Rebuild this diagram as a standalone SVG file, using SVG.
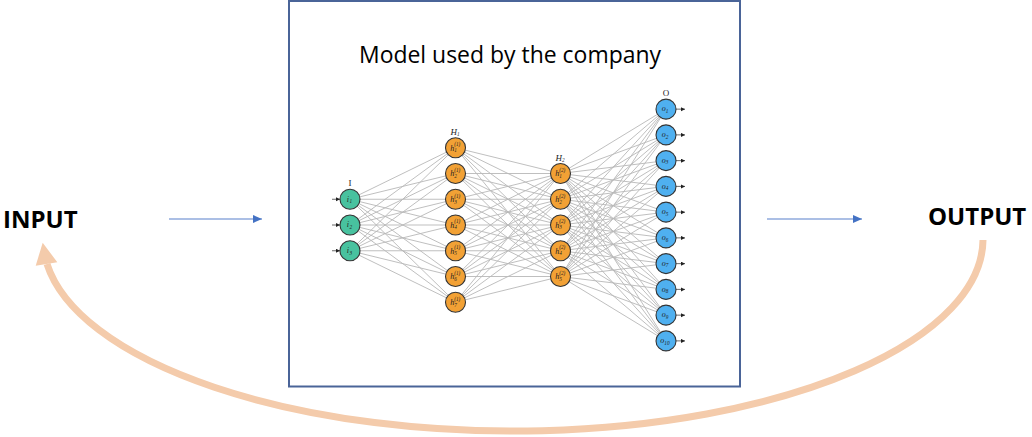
<svg xmlns="http://www.w3.org/2000/svg" width="1032" height="437" viewBox="0 0 1032 437">
<defs>
<style>
.big{font-family:"Open Sans","Liberation Sans",sans-serif;font-weight:700;font-size:24px;fill:#000}
.title{font-family:"Open Sans","Liberation Sans",sans-serif;font-size:23px;fill:#000}
.nn{stroke:#b8b8b8;stroke-width:0.9;fill:none}
.ni{fill:#48c29f;stroke:#333;stroke-width:1.1}
.nh{fill:#f2a135;stroke:#333;stroke-width:1.1}
.no{fill:#4fb0f0;stroke:#333;stroke-width:1.1}
.lbl{font-family:"Liberation Serif",serif;font-style:italic;font-size:8px;fill:#222}
.s{font-size:5.2px}
.lay{font-family:"Liberation Serif",serif;font-size:9px;fill:#222;text-anchor:middle}
.small{stroke:#444;stroke-width:0.8;marker-end:url(#sm)}
.flow{stroke:#8faadc;stroke-width:1.5;marker-end:url(#bl)}
</style>
<marker id="bl" markerUnits="userSpaceOnUse" markerWidth="10" markerHeight="10" refX="9" refY="4" orient="auto"><path d="M0,0 L9,4 L0,8 z" fill="#4472c4"/></marker>
<marker id="sm" markerUnits="userSpaceOnUse" markerWidth="5" markerHeight="5" refX="4" refY="2" orient="auto"><path d="M0,0 L4,2 L0,4 z" fill="#222"/></marker>
</defs>
<rect x="0" y="0" width="1032" height="437" fill="#fff"/>

<g id="model-box">
<rect x="289" y="1" width="451" height="385.5" fill="#fff" stroke="#4a6498" stroke-width="2"/>
<text class="title" x="510" y="63" text-anchor="middle" textLength="302" lengthAdjust="spacingAndGlyphs">Model used by the company</text>
</g>

<g id="input-label"><text class="big" x="3" y="228">INPUT</text></g>
<g id="output-label"><text class="big" x="928" y="225">OUTPUT</text></g>

<g id="connectors">
<line class="flow" x1="169" y1="219" x2="262" y2="219"/>
<line class="flow" x1="767" y1="219" x2="862" y2="219"/>
<path d="M983 240 A470 192 0 0 1 47 264" fill="none" stroke="#f4cbab" stroke-width="7"/>
<polygon points="42.7,242.7 35.7,265.7 57.3,262.3" fill="#f4cbab"/>

<g id="nn-edges" class="nn">
<path d="M350 199.25L455.5 147.75M350 199.25L455.5 173.5M350 199.25L455.5 199.25M350 199.25L455.5 225M350 199.25L455.5 250.75M350 199.25L455.5 276.5M350 199.25L455.5 302.25"/>
<path d="M350 225L455.5 147.75M350 225L455.5 173.5M350 225L455.5 199.25M350 225L455.5 225M350 225L455.5 250.75M350 225L455.5 276.5M350 225L455.5 302.25"/>
<path d="M350 250.75L455.5 147.75M350 250.75L455.5 173.5M350 250.75L455.5 199.25M350 250.75L455.5 225M350 250.75L455.5 250.75M350 250.75L455.5 276.5M350 250.75L455.5 302.25"/>
<path d="M455.5 147.75L560.5 173.5M455.5 147.75L560.5 199.25M455.5 147.75L560.5 225M455.5 147.75L560.5 250.75M455.5 147.75L560.5 276.5"/>
<path d="M455.5 173.5L560.5 173.5M455.5 173.5L560.5 199.25M455.5 173.5L560.5 225M455.5 173.5L560.5 250.75M455.5 173.5L560.5 276.5"/>
<path d="M455.5 199.25L560.5 173.5M455.5 199.25L560.5 199.25M455.5 199.25L560.5 225M455.5 199.25L560.5 250.75M455.5 199.25L560.5 276.5"/>
<path d="M455.5 225L560.5 173.5M455.5 225L560.5 199.25M455.5 225L560.5 225M455.5 225L560.5 250.75M455.5 225L560.5 276.5"/>
<path d="M455.5 250.75L560.5 173.5M455.5 250.75L560.5 199.25M455.5 250.75L560.5 225M455.5 250.75L560.5 250.75M455.5 250.75L560.5 276.5"/>
<path d="M455.5 276.5L560.5 173.5M455.5 276.5L560.5 199.25M455.5 276.5L560.5 225M455.5 276.5L560.5 250.75M455.5 276.5L560.5 276.5"/>
<path d="M455.5 302.25L560.5 173.5M455.5 302.25L560.5 199.25M455.5 302.25L560.5 225M455.5 302.25L560.5 250.75M455.5 302.25L560.5 276.5"/>
<path d="M560.5 173.5L666 109.125M560.5 173.5L666 134.875M560.5 173.5L666 160.625M560.5 173.5L666 186.375M560.5 173.5L666 212.125M560.5 173.5L666 237.875M560.5 173.5L666 263.625M560.5 173.5L666 289.375M560.5 173.5L666 315.125M560.5 173.5L666 340.875"/>
<path d="M560.5 199.25L666 109.125M560.5 199.25L666 134.875M560.5 199.25L666 160.625M560.5 199.25L666 186.375M560.5 199.25L666 212.125M560.5 199.25L666 237.875M560.5 199.25L666 263.625M560.5 199.25L666 289.375M560.5 199.25L666 315.125M560.5 199.25L666 340.875"/>
<path d="M560.5 225L666 109.125M560.5 225L666 134.875M560.5 225L666 160.625M560.5 225L666 186.375M560.5 225L666 212.125M560.5 225L666 237.875M560.5 225L666 263.625M560.5 225L666 289.375M560.5 225L666 315.125M560.5 225L666 340.875"/>
<path d="M560.5 250.75L666 109.125M560.5 250.75L666 134.875M560.5 250.75L666 160.625M560.5 250.75L666 186.375M560.5 250.75L666 212.125M560.5 250.75L666 237.875M560.5 250.75L666 263.625M560.5 250.75L666 289.375M560.5 250.75L666 315.125M560.5 250.75L666 340.875"/>
<path d="M560.5 276.5L666 109.125M560.5 276.5L666 134.875M560.5 276.5L666 160.625M560.5 276.5L666 186.375M560.5 276.5L666 212.125M560.5 276.5L666 237.875M560.5 276.5L666 263.625M560.5 276.5L666 289.375M560.5 276.5L666 315.125M560.5 276.5L666 340.875"/>
</g>
<g id="io-arrows">
<line class="small" x1="332" y1="199.25" x2="340" y2="199.25"/>
<line class="small" x1="332" y1="225" x2="340" y2="225"/>
<line class="small" x1="332" y1="250.75" x2="340" y2="250.75"/>
<line class="small" x1="676" y1="109.125" x2="685" y2="109.125"/>
<line class="small" x1="676" y1="134.875" x2="685" y2="134.875"/>
<line class="small" x1="676" y1="160.625" x2="685" y2="160.625"/>
<line class="small" x1="676" y1="186.375" x2="685" y2="186.375"/>
<line class="small" x1="676" y1="212.125" x2="685" y2="212.125"/>
<line class="small" x1="676" y1="237.875" x2="685" y2="237.875"/>
<line class="small" x1="676" y1="263.625" x2="685" y2="263.625"/>
<line class="small" x1="676" y1="289.375" x2="685" y2="289.375"/>
<line class="small" x1="676" y1="315.125" x2="685" y2="315.125"/>
<line class="small" x1="676" y1="340.875" x2="685" y2="340.875"/>
</g>
</g>

<g id="layer-labels">
<text class="lay" x="350" y="186">I</text>
<text class="lay" x="455" y="134.5" font-style="italic">H<tspan class="s" dy="1.5">1</tspan></text>
<text class="lay" x="560" y="160.5" font-style="italic">H<tspan class="s" dy="1.5">2</tspan></text>
<text class="lay" x="666" y="95.5">O</text>
</g>

<g id="i1"><circle class="ni" cx="350" cy="199.25" r="10"/><text class="lbl"><tspan x="346.8" y="201.6">i</tspan><tspan class="s" x="349.5" y="203.1">1</tspan></text></g>
<g id="i2"><circle class="ni" cx="350" cy="225" r="10"/><text class="lbl"><tspan x="346.8" y="227.4">i</tspan><tspan class="s" x="349.5" y="228.9">2</tspan></text></g>
<g id="i3"><circle class="ni" cx="350" cy="250.75" r="10"/><text class="lbl"><tspan x="346.8" y="253.1">i</tspan><tspan class="s" x="349.5" y="254.6">3</tspan></text></g>

<g id="h1-1"><circle class="nh" cx="455.5" cy="147.75" r="10"/><text class="lbl"><tspan x="450.3" y="150.5">h</tspan><tspan class="s" x="454.3" y="152">1</tspan><tspan class="s" x="454.3" y="146">(1)</tspan></text></g>
<g id="h1-2"><circle class="nh" cx="455.5" cy="173.5" r="10"/><text class="lbl"><tspan x="450.3" y="176.25">h</tspan><tspan class="s" x="454.3" y="177.75">2</tspan><tspan class="s" x="454.3" y="171.75">(1)</tspan></text></g>
<g id="h1-3"><circle class="nh" cx="455.5" cy="199.25" r="10"/><text class="lbl"><tspan x="450.3" y="202">h</tspan><tspan class="s" x="454.3" y="203.5">3</tspan><tspan class="s" x="454.3" y="197.5">(1)</tspan></text></g>
<g id="h1-4"><circle class="nh" cx="455.5" cy="225" r="10"/><text class="lbl"><tspan x="450.3" y="227.75">h</tspan><tspan class="s" x="454.3" y="229.25">4</tspan><tspan class="s" x="454.3" y="223.25">(1)</tspan></text></g>
<g id="h1-5"><circle class="nh" cx="455.5" cy="250.75" r="10"/><text class="lbl"><tspan x="450.3" y="253.5">h</tspan><tspan class="s" x="454.3" y="255">5</tspan><tspan class="s" x="454.3" y="249">(1)</tspan></text></g>
<g id="h1-6"><circle class="nh" cx="455.5" cy="276.5" r="10"/><text class="lbl"><tspan x="450.3" y="279.25">h</tspan><tspan class="s" x="454.3" y="280.75">6</tspan><tspan class="s" x="454.3" y="274.75">(1)</tspan></text></g>
<g id="h1-7"><circle class="nh" cx="455.5" cy="302.25" r="10"/><text class="lbl"><tspan x="450.3" y="305">h</tspan><tspan class="s" x="454.3" y="306.5">7</tspan><tspan class="s" x="454.3" y="300.5">(1)</tspan></text></g>

<g id="h2-1"><circle class="nh" cx="560.5" cy="173.5" r="10"/><text class="lbl"><tspan x="555.3" y="176.25">h</tspan><tspan class="s" x="559.3" y="177.75">1</tspan><tspan class="s" x="559.3" y="171.75">(2)</tspan></text></g>
<g id="h2-2"><circle class="nh" cx="560.5" cy="199.25" r="10"/><text class="lbl"><tspan x="555.3" y="202">h</tspan><tspan class="s" x="559.3" y="203.5">2</tspan><tspan class="s" x="559.3" y="197.5">(2)</tspan></text></g>
<g id="h2-3"><circle class="nh" cx="560.5" cy="225" r="10"/><text class="lbl"><tspan x="555.3" y="227.75">h</tspan><tspan class="s" x="559.3" y="229.25">3</tspan><tspan class="s" x="559.3" y="223.25">(2)</tspan></text></g>
<g id="h2-4"><circle class="nh" cx="560.5" cy="250.75" r="10"/><text class="lbl"><tspan x="555.3" y="253.5">h</tspan><tspan class="s" x="559.3" y="255">4</tspan><tspan class="s" x="559.3" y="249">(2)</tspan></text></g>
<g id="h2-5"><circle class="nh" cx="560.5" cy="276.5" r="10"/><text class="lbl"><tspan x="555.3" y="279.25">h</tspan><tspan class="s" x="559.3" y="280.75">5</tspan><tspan class="s" x="559.3" y="274.75">(2)</tspan></text></g>

<g id="o1"><circle class="no" cx="666" cy="109.125" r="10"/><text class="lbl"><tspan x="661.8" y="111.4">o</tspan><tspan class="s" x="665.8" y="112.9">1</tspan></text></g>
<g id="o2"><circle class="no" cx="666" cy="134.875" r="10"/><text class="lbl"><tspan x="661.8" y="137.1">o</tspan><tspan class="s" x="665.8" y="138.6">2</tspan></text></g>
<g id="o3"><circle class="no" cx="666" cy="160.625" r="10"/><text class="lbl"><tspan x="661.8" y="162.9">o</tspan><tspan class="s" x="665.8" y="164.4">3</tspan></text></g>
<g id="o4"><circle class="no" cx="666" cy="186.375" r="10"/><text class="lbl"><tspan x="661.8" y="188.6">o</tspan><tspan class="s" x="665.8" y="190.1">4</tspan></text></g>
<g id="o5"><circle class="no" cx="666" cy="212.125" r="10"/><text class="lbl"><tspan x="661.8" y="214.4">o</tspan><tspan class="s" x="665.8" y="215.9">5</tspan></text></g>
<g id="o6"><circle class="no" cx="666" cy="237.875" r="10"/><text class="lbl"><tspan x="661.8" y="240.1">o</tspan><tspan class="s" x="665.8" y="241.6">6</tspan></text></g>
<g id="o7"><circle class="no" cx="666" cy="263.625" r="10"/><text class="lbl"><tspan x="661.8" y="265.9">o</tspan><tspan class="s" x="665.8" y="267.4">7</tspan></text></g>
<g id="o8"><circle class="no" cx="666" cy="289.375" r="10"/><text class="lbl"><tspan x="661.8" y="291.6">o</tspan><tspan class="s" x="665.8" y="293.1">8</tspan></text></g>
<g id="o9"><circle class="no" cx="666" cy="315.125" r="10"/><text class="lbl"><tspan x="661.8" y="317.4">o</tspan><tspan class="s" x="665.8" y="318.9">9</tspan></text></g>
<g id="o10"><circle class="no" cx="666" cy="340.875" r="10"/><text class="lbl"><tspan x="660.3" y="343.1">o</tspan><tspan class="s" x="664.3" y="344.6">10</tspan></text></g>
</svg>
